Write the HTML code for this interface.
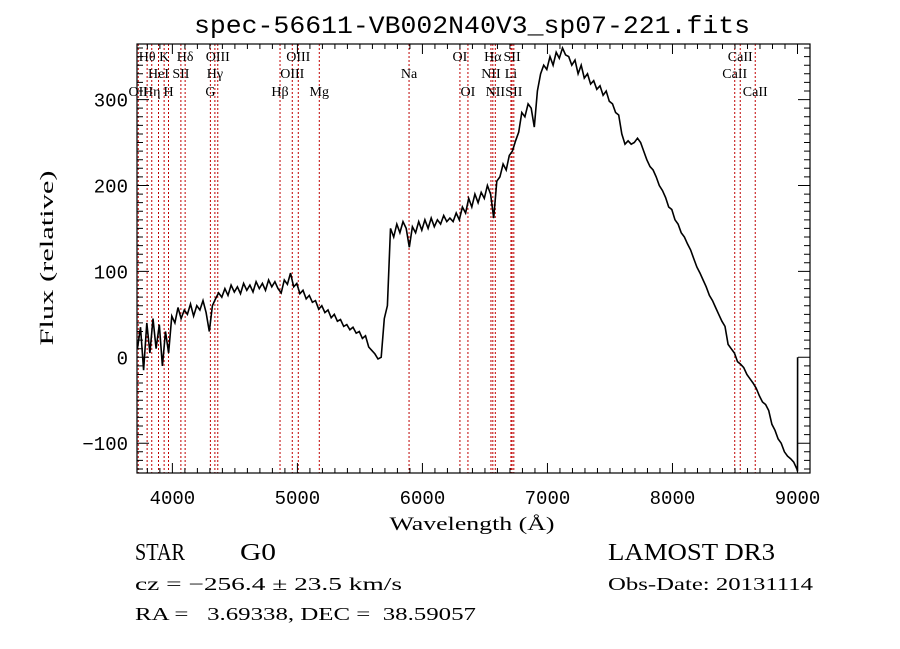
<!DOCTYPE html>
<html><head><meta charset="utf-8"><style>
body{margin:0;background:#fff}
svg{display:block}
text{font-family:"Liberation Serif",serif;fill:#000}
.mono{font-family:"Liberation Mono",monospace}
</style></head><body>
<svg id="chart" width="900" height="649" viewBox="0 0 900 649" xmlns="http://www.w3.org/2000/svg">
<rect width="900" height="649" fill="#fff"/>
<text x="472" y="33" text-anchor="middle" font-size="25" class="mono" textLength="556" lengthAdjust="spacingAndGlyphs">spec-56611-VB002N40V3_sp07-221.fits</text>
<g id="lines"></g>
<g id="linelabels"></g>
<g id="spec"></g>
<g id="axes"></g>
<text x="472" y="530" text-anchor="middle" font-size="19" textLength="165" lengthAdjust="spacingAndGlyphs">Wavelength (Å)</text>
<text transform="translate(53,258) rotate(-90)" text-anchor="middle" font-size="19" textLength="175" lengthAdjust="spacingAndGlyphs">Flux (relative)</text>
<text x="135" y="560" font-size="24" textLength="50" lengthAdjust="spacingAndGlyphs">STAR</text>
<text x="240" y="560" font-size="24" textLength="36" lengthAdjust="spacingAndGlyphs">G0</text>
<text x="608" y="560" font-size="24" textLength="167" lengthAdjust="spacingAndGlyphs">LAMOST DR3</text>
<text x="135" y="590" font-size="18" textLength="267" lengthAdjust="spacingAndGlyphs">cz = −256.4 ± 23.5 km/s</text>
<text x="608" y="590" font-size="18" textLength="205" lengthAdjust="spacingAndGlyphs">Obs-Date: 20131114</text>
<text x="135" y="620" font-size="18" xml:space="preserve" textLength="341" lengthAdjust="spacingAndGlyphs">RA =   3.69338, DEC =  38.59057</text>
</svg>
<script>
const startWave = 3720;
const stepWave = 25;
const fluxValues = [10,35,-15,40,5,45,10,38,-10,30,5,48,40,58,45,55,50,62,48,60,55,66,52,30,60,68,75,70,80,72,84,76,82,74,86,78,84,76,88,80,86,78,90,82,88,80,75,90,85,98,82,86,74,78,68,72,64,66,56,60,52,55,46,50,42,44,36,38,32,35,28,30,22,25,12,8,4,-2,0,45,60,150,140,155,145,158,150,128,152,145,158,148,160,150,162,152,160,155,165,158,162,158,168,160,175,168,185,175,190,180,192,185,200,190,162,205,210,225,218,235,240,252,262,285,280,295,290,268,310,330,340,335,350,340,355,348,360,352,350,340,346,330,340,325,330,318,322,312,316,305,310,298,295,285,282,260,248,252,248,250,255,250,240,230,222,218,210,200,194,186,175,172,160,155,145,140,132,125,115,105,98,90,82,72,66,58,50,42,36,15,10,5,-5,-8,-12,-20,-25,-30,-36,-45,-52,-55,-62,-78,-85,-95,-100,-110,-115,-118,-122,-130];
const tailWaves = [9000, 9001];
const tailFlux = [-133, 0];
const lineNames = ["Hθ","Hη","K","H","Hδ","G","Hγ","OIII","Hβ","OIII","OIII","Mg","Na","OI","OI","NII","Hα","NII","Li","SII","SII","CaII","CaII","CaII","OII","HeI","SII"];
const lineWaves = [3798,3835,3934,3969,4102,4304,4340,4363,4861,4959,5007,5175,5893,6300,6364,6548,6563,6583,6708,6717,6731,8498,8542,8662,3727,3889,4068];
const lineRows = [0,2,0,2,0,2,1,0,2,1,0,2,1,0,2,1,0,2,1,0,2,1,0,2,2,1,1];
const xTicks = [4000,5000,6000,7000,8000,9000];
const yTicks = [-100,0,100,200,300];

const X0=137,X1=810,Y0=44,Y1=473;
const wMin=3717,wMax=9100,fMin=-134.7,fMax=364.7;
const sx=w=>X0+(w-wMin)/(wMax-wMin)*(X1-X0);
const sy=f=>Y1-(f-fMin)/(fMax-fMin)*(Y1-Y0);
const NS="http://www.w3.org/2000/svg";
function mk(tag,attrs,parent){const e=document.createElementNS(NS,tag);for(const k in attrs)e.setAttribute(k,attrs[k]);parent.appendChild(e);return e;}

const gl=document.getElementById('lines'), gt=document.getElementById('linelabels');
const rowY=[61,78,96];
lineWaves.forEach((w,i)=>{
  const l=mk('line',{x1:sx(w),x2:sx(w),y1:Y0,y2:Y1,stroke:'#c00000','stroke-width':1,'stroke-dasharray':'2,2'},gl);
  
  
  const t=mk('text',{x:sx(w),y:rowY[lineRows[i]],'text-anchor':'middle','font-size':14},gt);
  t.textContent=lineNames[i];
  
  
});

const pts=fluxValues.map((f,i)=>sx(startWave+stepWave*i).toFixed(1)+','+sy(f).toFixed(1));
tailWaves.forEach((w,i)=>pts.push(sx(w).toFixed(1)+','+sy(tailFlux[i]).toFixed(1)));
const sp=mk('polyline',{points:pts.join(' '),fill:'none',stroke:'#000','stroke-width':1.6},document.getElementById('spec'));



const ga=document.getElementById('axes');
const fr=mk('rect',{x:X0,y:Y0,width:X1-X0,height:Y1-Y0,fill:'none',stroke:'#000','stroke-width':1.2},ga);


let d='';
for(let w=3800;w<=9100;w+=100){const x=sx(w);const L=(w%1000===0)?10:5;d+=`M${x},${Y1}v${-L}M${x},${Y0}v${L}`;}
for(let f=-130;f<=360;f+=10){const y=sy(f);const L=(f%100===0)?12:6;d+=`M${X0},${y}h${L}M${X1},${y}h${-L}`;}
const tk=mk('path',{d:d,stroke:'#000','stroke-width':1,fill:'none'},ga);


xTicks.forEach(w=>{const t=mk('text',{x:sx(w),y:504,'text-anchor':'middle','font-size':19,class:'mono'},ga);t.textContent=String(w);
  
  });
yTicks.forEach(f=>{const t=mk('text',{x:128,y:sy(f)+7,'text-anchor':'end','font-size':19,class:'mono'},ga);t.textContent=f<0?'−'+Math.abs(f):String(f);
  
  });
</script>
</body></html>
